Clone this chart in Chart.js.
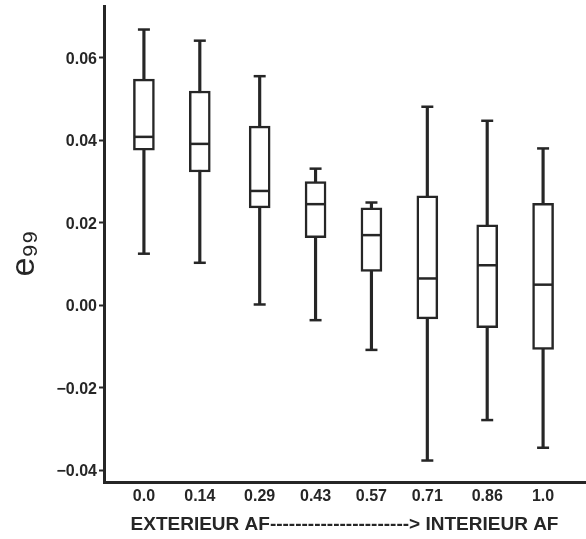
<!DOCTYPE html>
<html>
<head>
<meta charset="utf-8">
<script src="https://cdn.jsdelivr.net/npm/chart.js@4"></script>
<style>
  html, body { margin: 0; padding: 0; background: #fff; }
  #wrap { width: 586px; height: 539px; }
</style>
</head>
<body>
<div id="wrap"><canvas id="grafico"></canvas></div>
<script>
// valores ------------------------------------------------------------------
const posicoes = [0.0, 0.14, 0.29, 0.43, 0.57, 0.71, 0.86, 1.0];
const rotulosX = ['0.0', '0.14', '0.29', '0.43', '0.57', '0.71', '0.86', '1.0'];
const bigodeAlto = [0.0668, 0.0641, 0.0555, 0.0331, 0.0249, 0.0481, 0.0447, 0.0380];
const q3 = [0.0548, 0.0519, 0.0434, 0.0300, 0.0236, 0.0265, 0.0195, 0.0247];
const mediana = [0.0408, 0.0391, 0.0277, 0.0245, 0.0170, 0.0065, 0.0097, 0.0050];
const q1 = [0.0376, 0.0323, 0.0236, 0.0164, 0.0082, -0.0033, -0.0054, -0.0107];
const bigodeBaixo = [0.0125, 0.0103, 0.0002, -0.0036, -0.0108, -0.0376, -0.0278, -0.0345];
const ticksY = [-0.04, -0.02, 0.0, 0.02, 0.04, 0.06];
const rotulosY = ['\u22120.04', '\u22120.02', '0.00', '0.02', '0.04', '0.06'];
//---------------------------------------------------------------------------

const cor = '#262626';
const fonte = '"Liberation Sans", Arial, sans-serif';

const ctx = document.getElementById('grafico').getContext('2d');

new Chart(ctx, {
  type: 'bar',
  data: {
    datasets: [
      {
        // linha do bigode (min ate max), fica atras da caixa
        type: 'bar',
        data: posicoes.map((x, i) => ({ x: x, y: [bigodeBaixo[i], bigodeAlto[i]] })),
        backgroundColor: cor,
        borderWidth: 0,
        barThickness: 2.5,
        grouped: false,
        order: 4
      },
      {
        // caixa q1-q3
        type: 'bar',
        data: posicoes.map((x, i) => ({ x: x, y: [q1[i], q3[i]] })),
        backgroundColor: '#ffffff',
        borderColor: cor,
        borderWidth: 2.5,
        borderSkipped: false,
        barThickness: 21,
        grouped: false,
        order: 3
      },
      {
        // tampas dos bigodes
        type: 'line',
        showLine: false,
        data: posicoes.map((x, i) => ({ x: x, y: bigodeAlto[i] }))
          .concat(posicoes.map((x, i) => ({ x: x, y: bigodeBaixo[i] }))),
        pointStyle: 'line',
        pointRadius: 6,
        borderColor: cor,
        borderWidth: 2.5,
        order: 2
      },
      {
        // mediana
        type: 'line',
        showLine: false,
        data: posicoes.map((x, i) => ({ x: x, y: mediana[i] })),
        pointStyle: 'line',
        pointRadius: 9.5,
        borderColor: cor,
        borderWidth: 2.5,
        order: 1
      }
    ]
  },
  options: {
    responsive: true,
    maintainAspectRatio: false,
    animation: false,
    events: [],
    layout: { autoPadding: false, padding: { top: 6, right: 1, left: 0, bottom: 0 } },
    plugins: { legend: { display: false }, tooltip: { enabled: false } },
    scales: {
      x: {
        type: 'linear',
        min: -0.1,
        max: 1.105,
        offset: false,
        afterBuildTicks: (eixo) => { eixo.ticks = posicoes.map(v => ({ value: v })); },
        afterFit: (eixo) => { eixo.height = 57; eixo.paddingLeft = 0; eixo.paddingRight = 0; },
        border: { display: true, color: cor, width: 3 },
        grid: { display: true, drawOnChartArea: false, drawTicks: false },
        ticks: {
          padding: 5,
          maxRotation: 0,
          autoSkip: false,
          color: cor,
          font: { family: fonte, size: 16, weight: 'bold' },
          callback: (v, i) => rotulosX[i]
        },
        title: {
          display: true,
          text: 'EXTERIEUR AF----------------------> INTERIEUR AF',
          color: cor,
          font: { family: fonte, size: 19, weight: 'bold' },
          padding: { top: 0, bottom: 3 }
        }
      },
      y: {
        type: 'linear',
        min: -0.0428,
        max: 0.0725,
        afterBuildTicks: (eixo) => { eixo.ticks = ticksY.map(v => ({ value: v })); },
        afterFit: (eixo) => { eixo.width = 104; eixo.paddingTop = 0; eixo.paddingBottom = 0; },
        border: { display: true, color: cor, width: 3 },
        grid: { display: true, drawOnChartArea: false, drawTicks: true, tickLength: 5, tickColor: cor, tickWidth: 2 },
        ticks: {
          padding: 2,
          labelOffset: 1.5,
          color: cor,
          font: { family: fonte, size: 16, weight: 'bold' },
          callback: (v, i) => rotulosY[i]
        },
        title: {
          display: true,
          text: 'e\u2089\u2089  ',
          color: cor,
          font: { family: fonte, size: 34, weight: 'normal' },
          padding: { top: 4, bottom: 0 }
        }
      }
    }
  }
});
</script>
</body>
</html>
